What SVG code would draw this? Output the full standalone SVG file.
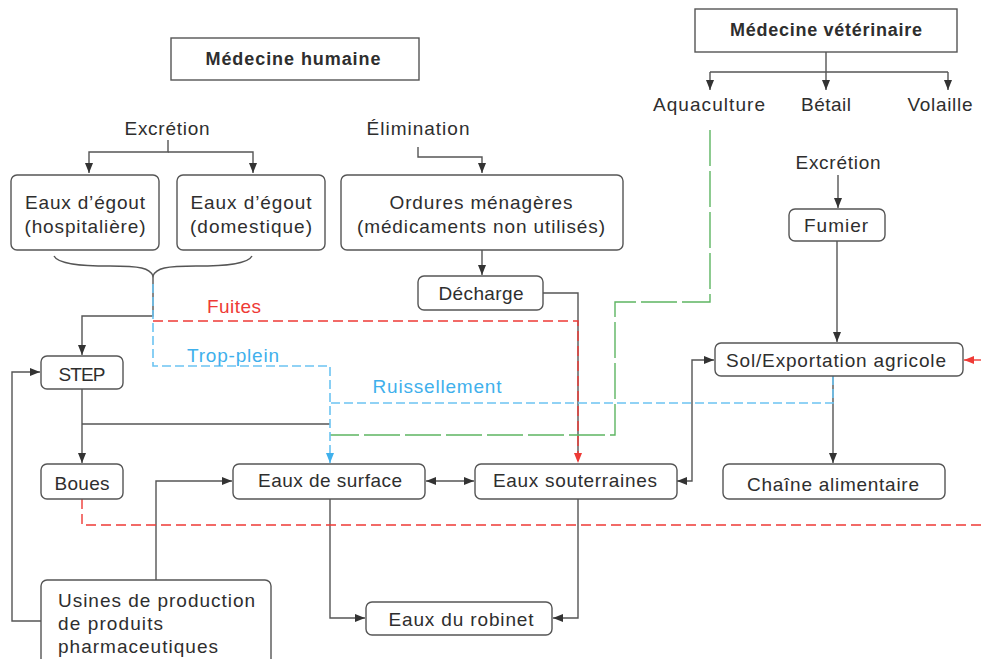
<svg xmlns="http://www.w3.org/2000/svg" width="981" height="659" viewBox="0 0 981 659">
<defs>
<style>
text{font-family:"Liberation Sans",Arial,sans-serif;font-size:19px;fill:#2e2e2e;text-anchor:middle}
.b{font-weight:bold;font-size:18px}
.l{text-anchor:start}
.red{fill:#ee3a36}
.blu{fill:#3fb0ec}
.box{fill:#fff;stroke:#555;stroke-width:1.4}
.c{fill:none;stroke:#555;stroke-width:1.4}
.cr{fill:none;stroke:#ee3a36;stroke-width:1.4;stroke-dasharray:10 5}
.cb{fill:none;stroke:#6cc4f2;stroke-width:1.6;stroke-dasharray:9 4}
.cg{fill:none;stroke:#5db562;stroke-width:1.4;stroke-dasharray:36 5}
</style>
<marker id="a" viewBox="0 0 10 8" refX="10" refY="4" markerWidth="10" markerHeight="8" markerUnits="userSpaceOnUse" orient="auto-start-reverse"><path d="M0,0 L10,4 L0,8 z" fill="#333"/></marker>
<marker id="ar" viewBox="0 0 10 8" refX="10" refY="4" markerWidth="10" markerHeight="8" markerUnits="userSpaceOnUse" orient="auto"><path d="M0,0 L10,4 L0,8 z" fill="#ee3a36"/></marker>
<marker id="ab" viewBox="0 0 10 8" refX="10" refY="4" markerWidth="10" markerHeight="8" markerUnits="userSpaceOnUse" orient="auto"><path d="M0,0 L10,4 L0,8 z" fill="#3fb0ec"/></marker>
</defs>
<rect width="981" height="659" fill="#fff"/>

<g id="connectors">
<path class="c" d="M826,52 V72 M710,72 H948"/>
<path class="c" d="M710,72 V90" marker-end="url(#a)"/>
<path class="c" d="M826,72 V90" marker-end="url(#a)"/>
<path class="c" d="M948,72 V90" marker-end="url(#a)"/>
<path class="c" d="M168,140 V152 H89 V173" marker-end="url(#a)"/>
<path class="c" d="M168,152 H253 V173" marker-end="url(#a)"/>
<path class="c" d="M418,147 V157 H482 V173" marker-end="url(#a)"/>
<path class="c" d="M482,250 V275" marker-end="url(#a)"/>
<path class="c" d="M54,256 C58,264 80,266 110,266 C140,266 150,268 153,276 C156,268 166,266 196,266 C226,266 248,264 252,256"/>
<path class="c" d="M153,276 V316 H82 V355" marker-end="url(#a)"/>
<path class="c" d="M543,293 H578 V460"/>
<path class="c" d="M82,389 V463" marker-end="url(#a)"/>
<path class="c" d="M82,424 H330"/>
<path class="c" d="M838,175 V208" marker-end="url(#a)"/>
<path class="c" d="M837,241 V342" marker-end="url(#a)"/>
<path class="c" d="M833,376 V463" marker-end="url(#a)"/>
<path class="c" d="M677,481 H692 V360 H714" marker-start="url(#a)" marker-end="url(#a)"/>
<path class="c" d="M426,481 H474" marker-start="url(#a)" marker-end="url(#a)"/>
<path class="c" d="M330,499 V618 H365" marker-end="url(#a)"/>
<path class="c" d="M578,499 V618 H553" marker-end="url(#a)"/>
<path class="c" d="M156,580 V481 H232" marker-end="url(#a)"/>
<path class="c" d="M41,621 H12 V372 H40" marker-end="url(#a)"/>
<path class="cg" d="M710,130 V302 H615 V435 H330"/>
<path class="cb" d="M153,284 V366 H330 V463" marker-end="url(#ab)"/>
<path class="cb" d="M833,376 V403 H330"/>
<path class="cr" d="M153,321 H578 V463" marker-end="url(#ar)"/>
<path class="cr" d="M82,499 V525 H981"/>
<path class="cr" d="M981,360 H964" style="stroke-dasharray:none" marker-end="url(#ar)"/>
</g>

<g id="medecine-humaine"><rect class="box" x="171" y="38" width="248" height="42"/><text class="b" x="293" y="65" textLength="175" lengthAdjust="spacing">Médecine humaine</text></g>
<g id="medecine-veterinaire"><rect class="box" x="695" y="9" width="262" height="43"/><text class="b" x="826" y="36" textLength="192" lengthAdjust="spacing">Médecine vétérinaire</text></g>
<g id="aquaculture"><text x="709" y="111" textLength="112" lengthAdjust="spacing">Aquaculture</text></g>
<g id="betail"><text x="826" y="111" textLength="50" lengthAdjust="spacing">Bétail</text></g>
<g id="volaille"><text x="940" y="111" textLength="65" lengthAdjust="spacing">Volaille</text></g>
<g id="excretion-h"><text x="167" y="135" textLength="85" lengthAdjust="spacing">Excrétion</text></g>
<g id="elimination"><text x="418" y="135" textLength="103" lengthAdjust="spacing">Élimination</text></g>
<g id="excretion-v"><text x="838" y="169" textLength="85" lengthAdjust="spacing">Excrétion</text></g>
<g id="egout-hosp"><rect class="box" x="11" y="175" width="148" height="75" rx="6"/><text x="85" y="209" textLength="120" lengthAdjust="spacing">Eaux d’égout</text><text x="85" y="233" textLength="121" lengthAdjust="spacing">(hospitalière)</text></g>
<g id="egout-dom"><rect class="box" x="177" y="175" width="148" height="75" rx="6"/><text x="251" y="209" textLength="121" lengthAdjust="spacing">Eaux d’égout</text><text x="251" y="233" textLength="122" lengthAdjust="spacing">(domestique)</text></g>
<g id="ordures"><rect class="box" x="341" y="175" width="282" height="75" rx="6"/><text x="481" y="209" textLength="183" lengthAdjust="spacing">Ordures ménagères</text><text x="481" y="233" textLength="248" lengthAdjust="spacing">(médicaments non utilisés)</text></g>
<g id="decharge"><rect class="box" x="418" y="276" width="125" height="34" rx="6"/><text x="481" y="300" textLength="85" lengthAdjust="spacing">Décharge</text></g>
<g id="fumier"><rect class="box" x="789" y="209" width="96" height="32" rx="6"/><text x="836" y="232" textLength="64" lengthAdjust="spacing">Fumier</text></g>
<g id="fuites"><text class="red" x="234" y="313" textLength="54" lengthAdjust="spacing">Fuites</text></g>
<g id="trop-plein"><text class="blu" x="233" y="362" textLength="92" lengthAdjust="spacing">Trop-plein</text></g>
<g id="ruissellement"><text class="blu" x="437" y="393" textLength="129" lengthAdjust="spacing">Ruissellement</text></g>
<g id="sol"><rect class="box" x="715" y="343" width="248" height="33" rx="6"/><text x="836" y="367" textLength="220" lengthAdjust="spacing">Sol/Exportation agricole</text></g>
<g id="step"><rect class="box" x="41" y="356" width="82" height="33" rx="6"/><text x="82" y="381" textLength="47" lengthAdjust="spacing">STEP</text></g>
<g id="boues"><rect class="box" x="41" y="464" width="82" height="35" rx="6"/><text x="82" y="490" textLength="55" lengthAdjust="spacing">Boues</text></g>
<g id="eaux-surface"><rect class="box" x="233" y="464" width="192" height="35" rx="6"/><text x="330" y="487" textLength="144" lengthAdjust="spacing">Eaux de surface</text></g>
<g id="eaux-souterraines"><rect class="box" x="475" y="464" width="202" height="35" rx="6"/><text x="575" y="487" textLength="164" lengthAdjust="spacing">Eaux souterraines</text></g>
<g id="chaine"><rect class="box" x="723" y="464" width="222" height="35" rx="6"/><text x="833" y="491" textLength="172" lengthAdjust="spacing">Chaîne alimentaire</text></g>
<g id="robinet"><rect class="box" x="366" y="602" width="186" height="33" rx="6"/><text x="461" y="626" textLength="145" lengthAdjust="spacing">Eaux du robinet</text></g>
<g id="usines"><rect class="box" x="41" y="580" width="230" height="95" rx="6"/><text class="l" x="58" y="607" textLength="197" lengthAdjust="spacing">Usines de production</text><text class="l" x="58" y="630" textLength="105" lengthAdjust="spacing">de produits</text><text class="l" x="58" y="653" textLength="160" lengthAdjust="spacing">pharmaceutiques</text></g>
</svg>
